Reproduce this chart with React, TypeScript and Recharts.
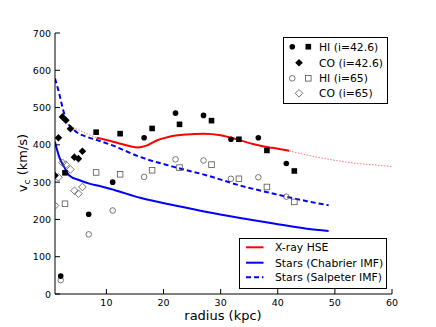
import React from 'react';
import { ComposedChart, Line, Scatter, XAxis, YAxis } from 'recharts';

// HI rotation curve, i=42.6 (circles / squares) and i=65 (open versions)
const hiCircR = [2.0, 6.9, 11.1, 16.6, 22.1, 27.0, 31.8, 36.6, 41.5];
const hiCircV426 = [48, 214, 300, 419, 485, 479, 415, 419, 350];
const hiCircV65 = [37, 160, 224, 314, 361, 358, 309, 313, 261];

const hiSqR = [2.75, 8.2, 12.4, 18.0, 22.8, 28.4, 33.2, 38.1, 42.9];
const hiSqV426 = [325, 434, 430, 444, 455, 465, 415, 385, 330];
const hiSqV65 = [242, 326, 321, 332, 339, 347, 309, 287, 247];

// CO points
const coR = [1.0, 1.6, 2.3, 2.9, 3.7, 4.4, 5.1, 5.8];
const coV426 = [318, 419, 475, 466, 443, 367, 363, 383];
const coV65 = [237, 313, 352, 347, 334, 277, 269, 287];

// X-ray hydrostatic mass curve
const hseR = [8.3, 10, 12, 14, 15.5, 17, 19, 21, 24, 27, 30, 33, 36, 39, 42];
const hseV = [419, 413, 405, 397, 393, 398, 413, 422, 428, 430, 426, 414, 401, 392, 384];
const hseInR = [3.2, 5, 7, 8.3];
const hseInV = [455, 441, 427, 419];
const hseOutR = [42, 45, 48, 51, 54, 57, 60];
const hseOutV = [384, 373, 364, 356, 350, 346, 342];

// stellar mass curves
const chabR = [1, 1.75, 2.6, 3.5, 5.3, 7, 9, 11.4, 15.9, 21.8, 27.6, 33.4, 39.3, 45.1, 48.9];
const chabV = [408, 367, 341, 318, 305, 296, 289, 279, 258, 238, 220, 204, 189, 175, 169];
const salpR = [1, 1.75, 2.3, 2.9, 4.4, 6.7, 8.5, 10.8, 16, 21.8, 27.6, 33.4, 39.3, 45.1, 48.9];
const salpV = [578, 537, 501, 470, 439, 421, 412, 400, 367, 341, 318, 291, 269, 249, 238];

const xTicks = [10, 20, 30, 40, 50, 60];
const yTicks = [0, 100, 200, 300, 400, 500, 600, 700];

const pts = (r: number[], v: number[]) => r.map((x, i) => ({ x, y: v[i] }));

const FONT = '"DejaVu Sans", sans-serif';
const OPEN = '#555';

const filledCircle = (p: any) => <circle cx={p.cx} cy={p.cy} r={2.8} fill="#000" />;
const filledSquare = (p: any) => <rect x={p.cx - 2.8} y={p.cy - 2.8} width={5.6} height={5.6} fill="#000" />;
const filledDiamond = (p: any) => (
  <polygon points={`${p.cx},${p.cy - 3.8} ${p.cx + 3.8},${p.cy} ${p.cx},${p.cy + 3.8} ${p.cx - 3.8},${p.cy}`} fill="#000" />
);
const openCircle = (p: any) => <circle cx={p.cx} cy={p.cy} r={2.8} fill="none" stroke={OPEN} strokeWidth={0.8} />;
const openSquare = (p: any) => (
  <rect x={p.cx - 2.8} y={p.cy - 2.8} width={5.6} height={5.6} fill="none" stroke={OPEN} strokeWidth={0.8} />
);
const openDiamond = (p: any) => (
  <polygon
    points={`${p.cx},${p.cy - 3.8} ${p.cx + 3.8},${p.cy} ${p.cx},${p.cy + 3.8} ${p.cx - 3.8},${p.cy}`}
    fill="none"
    stroke={OPEN}
    strokeWidth={0.8}
  />
);

// inward ticks, matplotlib style
const BottomTick = (p: any) => (
  <g>
    <line x1={p.x} y1={p.y} x2={p.x} y2={p.y - 5} stroke="#000" />
    <text x={p.x} y={p.y + 12} textAnchor="middle" fontSize={9.5} fontFamily={FONT} fill="#000">
      {p.payload.value}
    </text>
  </g>
);
const LeftTick = (p: any) => (
  <g>
    <line x1={p.x} y1={p.y} x2={p.x + 5} y2={p.y} stroke="#000" />
    <text x={p.x - 4} y={p.y + 3.5} textAnchor="end" fontSize={9.5} fontFamily={FONT} fill="#000">
      {p.payload.value}
    </text>
  </g>
);
const TopTick = (p: any) => <line x1={p.x} y1={p.y} x2={p.x} y2={p.y + 5} stroke="#000" />;
const RightTick = (p: any) => <line x1={p.x} y1={p.y} x2={p.x - 5} y2={p.y} stroke="#000" />;

export default function App() {
  return (
    <div style={{ position: 'absolute', left: 0, top: 0, width: 436, height: 327, background: '#fff' }}>
      <ComposedChart width={436} height={327} margin={{ top: 33, right: 44, bottom: 0, left: 0 }}>
        <XAxis xAxisId="b" dataKey="x" type="number" domain={[1, 60]} ticks={xTicks} height={33}
          tickSize={0} tickMargin={0} tick={BottomTick} tickLine={false} axisLine={{ stroke: '#000' }} allowDataOverflow />
        <XAxis xAxisId="t" orientation="top" type="number" domain={[1, 60]} ticks={xTicks} height={0}
          tickSize={0} tickMargin={0} tick={TopTick} tickLine={false} axisLine={{ stroke: '#000' }} allowDataOverflow />
        <YAxis yAxisId="l" type="number" domain={[0, 700]} ticks={yTicks} width={55}
          tickSize={0} tickMargin={0} tick={LeftTick} tickLine={false} axisLine={{ stroke: '#000' }} allowDataOverflow />
        <YAxis yAxisId="r" orientation="right" type="number" domain={[0, 700]} ticks={yTicks} width={0}
          tickSize={0} tickMargin={0} tick={RightTick} tickLine={false} axisLine={{ stroke: '#000' }} allowDataOverflow />

        <Line xAxisId="b" yAxisId="l" data={pts(hseInR, hseInV)} dataKey="y" type="monotone" stroke="#ff0000"
          strokeOpacity={0.55} strokeWidth={1} strokeDasharray="1.5 1.5" dot={false} isAnimationActive={false} />
        <Line xAxisId="b" yAxisId="l" data={pts(hseOutR, hseOutV)} dataKey="y" type="monotone" stroke="#ff0000"
          strokeOpacity={0.55} strokeWidth={1} strokeDasharray="1.5 1.5" dot={false} isAnimationActive={false} />
        <Line xAxisId="b" yAxisId="l" data={pts(hseR, hseV)} dataKey="y" type="monotone" stroke="#ff0000"
          strokeWidth={2} dot={false} isAnimationActive={false} />
        <Line xAxisId="b" yAxisId="l" data={pts(chabR, chabV)} dataKey="y" type="monotone" stroke="#0000ff"
          strokeWidth={2} dot={false} isAnimationActive={false} />
        <Line xAxisId="b" yAxisId="l" data={pts(salpR, salpV)} dataKey="y" type="monotone" stroke="#0000ff"
          strokeWidth={2} strokeDasharray="5 3" dot={false} isAnimationActive={false} />

        <Scatter xAxisId="b" yAxisId="l" data={pts(hiCircR, hiCircV65)} dataKey="y" shape={openCircle} isAnimationActive={false} />
        <Scatter xAxisId="b" yAxisId="l" data={pts(hiSqR, hiSqV65)} dataKey="y" shape={openSquare} isAnimationActive={false} />
        <Scatter xAxisId="b" yAxisId="l" data={pts(coR, coV65)} dataKey="y" shape={openDiamond} isAnimationActive={false} />
        <Scatter xAxisId="b" yAxisId="l" data={pts(hiCircR, hiCircV426)} dataKey="y" shape={filledCircle} isAnimationActive={false} />
        <Scatter xAxisId="b" yAxisId="l" data={pts(hiSqR, hiSqV426)} dataKey="y" shape={filledSquare} isAnimationActive={false} />
        <Scatter xAxisId="b" yAxisId="l" data={pts(coR, coV426)} dataKey="y" shape={filledDiamond} isAnimationActive={false} />
      </ComposedChart>

      <svg width={436} height={327} style={{ position: 'absolute', left: 0, top: 0, pointerEvents: 'none' }}
        fontFamily={FONT} fill="#000">
        {/* axis titles */}
        <text x={223} y={320} fontSize={13} textAnchor="middle">radius (kpc)</text>
        <text transform="translate(27,163) rotate(-90)" fontSize={13} textAnchor="middle">
          v<tspan fontSize={9} dy={3}>c</tspan><tspan dy={-3}> (km/s)</tspan>
        </text>

        {/* data legend */}
        <rect x={283.5} y={37.5} width={104} height={66} fill="#fff" stroke="#000" />
        <circle cx={292.3} cy={46.7} r={2.8} />
        <rect x={305.5} y={43.9} width={5.6} height={5.6} />
        <text x={319} y={50.5} fontSize={10.8}>HI (i=42.6)</text>
        <polygon points="299,58.9 302.8,62.7 299,66.5 295.2,62.7" />
        <text x={319} y={66.5} fontSize={10.8}>CO (i=42.6)</text>
        <circle cx={292.3} cy={78.3} r={2.8} fill="none" stroke={OPEN} strokeWidth={0.8} />
        <rect x={305.5} y={75.5} width={5.6} height={5.6} fill="none" stroke={OPEN} strokeWidth={0.8} />
        <text x={319} y={82.1} fontSize={10.8}>HI (i=65)</text>
        <polygon points="299,89.5 302.8,93.3 299,97.1 295.2,93.3" fill="none" stroke={OPEN} strokeWidth={0.8} />
        <text x={319} y={97.1} fontSize={10.8}>CO (i=65)</text>

        {/* model legend */}
        <rect x={239.5} y={238.5} width={147} height={50} fill="#fff" stroke="#000" />
        <line x1={246} y1={247.3} x2={263.5} y2={247.3} stroke="#ff0000" strokeWidth={2} />
        <text x={275} y={251.1} fontSize={10.8}>X-ray HSE</text>
        <line x1={246} y1={262.7} x2={263.5} y2={262.7} stroke="#0000ff" strokeWidth={2} />
        <text x={275} y={266.5} fontSize={10.8}>Stars (Chabrier IMF)</text>
        <line x1={246} y1={277.3} x2={263.5} y2={277.3} stroke="#0000ff" strokeWidth={2} strokeDasharray="5 3" />
        <text x={275} y={281.1} fontSize={10.8}>Stars (Salpeter IMF)</text>
      </svg>
    </div>
  );
}
